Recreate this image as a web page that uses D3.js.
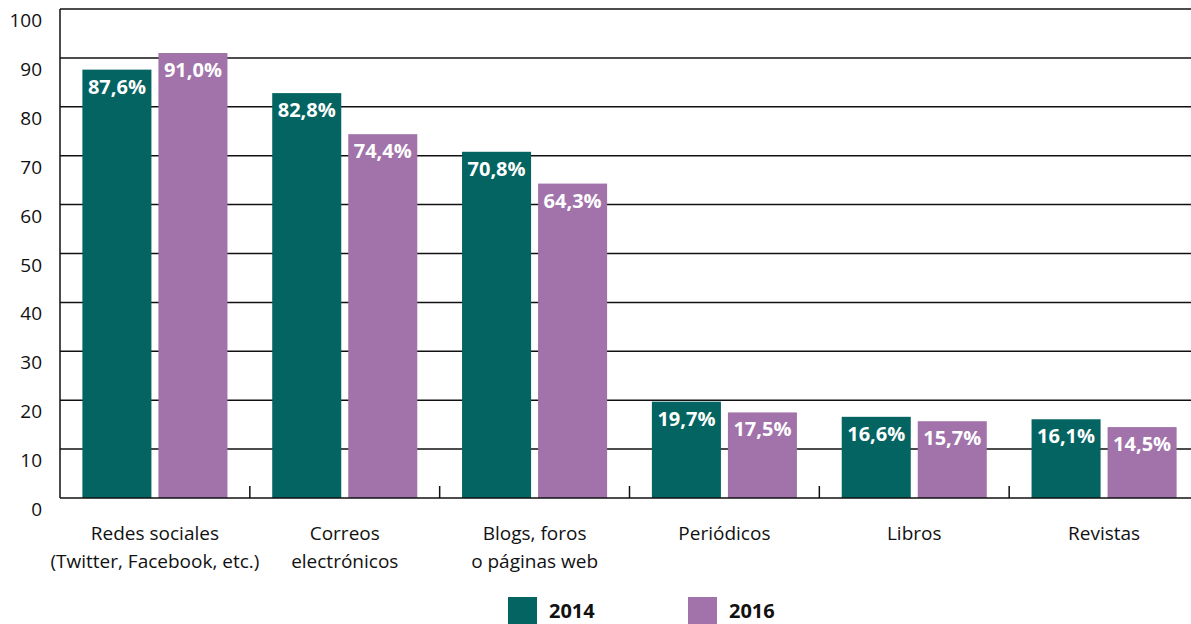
<!DOCTYPE html>
<html><head><meta charset="utf-8">
<script src="https://cdn.jsdelivr.net/npm/d3@7"></script>
<style>html,body{margin:0;padding:0;background:#fff;}svg{display:block;}</style>
</head><body>
<svg id="c" width="1191" height="624"></svg>
<script>
const categories = [
  ["Redes sociales", "(Twitter, Facebook, etc.)"],
  ["Correos", "electrónicos"],
  ["Blogs, foros", "o páginas web"],
  ["Periódicos"],
  ["Libros"],
  ["Revistas"]
];
const seriesNames = ["2014", "2016"];
const values2014 = [87.6, 82.8, 70.8, 19.7, 16.6, 16.1];
const values2016 = [91.0, 74.4, 64.3, 17.5, 15.7, 14.5];
const yTicks = [0, 10, 20, 30, 40, 50, 60, 70, 80, 90, 100];
const colors = ["#036461", "#a173aa"];

const W = 1191, H = 624;
const mLeft = 60, mRight = 1199, mTop = 9, mBottom = 498;
const font = "'Open Sans', 'Noto Sans', sans-serif";
const svg = d3.select("#c");

const idx = d3.range(categories.length);
const x0 = d3.scaleBand().domain(idx).range([mLeft, mRight]).padding(0);
const x1 = d3.scaleBand().domain([0, 1]).range([0, x0.bandwidth()])
  .paddingInner(0.092).paddingOuter(0.2945);
const y = d3.scaleLinear().domain([0, 100]).range([mBottom, mTop]);

// gridlines
svg.append("g").selectAll("line").data(yTicks.filter(d => d > 0)).join("line")
  .attr("x1", mLeft).attr("x2", W)
  .attr("y1", d => y(d)).attr("y2", d => y(d))
  .attr("stroke", "#111").attr("stroke-width", 1.5);

// y labels
svg.append("g").selectAll("text").data(yTicks).join("text")
  .attr("x", 42).attr("y", d => y(d) + 11)
  .attr("text-anchor", "end").attr("dominant-baseline", "central")
  .attr("font-family", font).attr("font-size", 19).attr("fill", "#111")
  .text(d => d);

// bars
const data = [];
idx.forEach(i => {
  data.push({i, s: 0, v: values2014[i]});
  data.push({i, s: 1, v: values2016[i]});
});
svg.append("g").selectAll("rect").data(data).join("rect")
  .attr("x", d => x0(d.i) + x1(d.s))
  .attr("width", x1.bandwidth())
  .attr("y", d => y(d.v))
  .attr("height", d => y(0) - y(d.v))
  .attr("fill", d => colors[d.s]);

// bar labels
svg.append("g").selectAll("text").data(data).join("text")
  .attr("x", d => x0(d.i) + x1(d.s) + x1.bandwidth() / 2)
  .attr("y", d => y(d.v) + 24)
  .attr("text-anchor", "middle")
  .attr("font-family", font).attr("font-weight", 700).attr("font-size", 20)
  .attr("fill", "#fff")
  .text(d => d.v.toFixed(1).replace(".", ",") + "%");

// axes lines
svg.append("line").attr("x1", mLeft).attr("x2", mLeft).attr("y1", mTop).attr("y2", mBottom)
  .attr("stroke", "#111").attr("stroke-width", 1.5);
svg.append("line").attr("x1", mLeft).attr("x2", W).attr("y1", mBottom).attr("y2", mBottom)
  .attr("stroke", "#111").attr("stroke-width", 1.5);
// group separator ticks
svg.append("g").selectAll("line").data(idx.slice(1)).join("line")
  .attr("x1", d => x0(d)).attr("x2", d => x0(d))
  .attr("y1", mBottom).attr("y2", mBottom - 12)
  .attr("stroke", "#111").attr("stroke-width", 1.5);

// x labels
const xl = svg.append("g").selectAll("text").data(idx).join("text")
  .attr("x", d => x0(d) + x0.bandwidth() / 2)
  .attr("y", 540)
  .attr("text-anchor", "middle")
  .attr("font-family", font).attr("font-size", 19).attr("fill", "#111");
xl.each(function(d) {
  const t = d3.select(this);
  categories[d].forEach((line, k) => {
    t.append("tspan").attr("x", x0(d) + x0.bandwidth() / 2).attr("dy", k === 0 ? 0 : 28).text(line);
  });
});

// legend
const legX = [508, 688];
const lg = svg.append("g").selectAll("g").data(seriesNames).join("g");
lg.append("rect").attr("x", (d, i) => legX[i]).attr("y", 597).attr("width", 29).attr("height", 29)
  .attr("fill", (d, i) => colors[i]);
lg.append("text").attr("x", (d, i) => legX[i] + 41).attr("y", 618)
  .attr("font-family", font).attr("font-weight", 700).attr("font-size", 20).attr("fill", "#111")
  .text(d => d);
</script>
</body></html>
